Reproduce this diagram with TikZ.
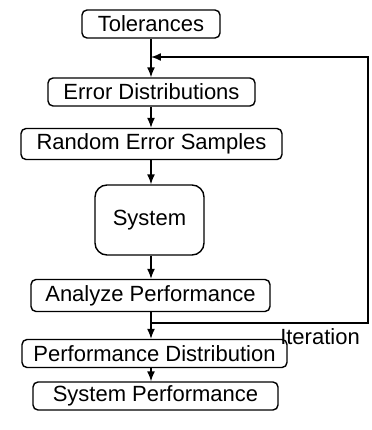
\documentclass[tikz,border=0pt]{standalone}
\usepackage{fontspec}
\setmainfont{Liberation Sans}
\usetikzlibrary{arrows.meta}
\begin{document}
\begin{tikzpicture}[x=0.5pt, y=0.5pt]
		\tikzstyle{Block} = [rectangle, rounded corners=2.5pt, minimum height=14pt, inner sep=0pt, text centered, draw=black, line width=0.7pt, fill=white, font=\fontsize{11}{13}\selectfont]
		\tikzstyle{SysBlock} = [Block, rounded corners=6pt, minimum width=54.5pt, minimum height=35pt]
		\tikzstyle{arrow} = [line width=0.7pt, -{Latex[length=5pt, width=4pt]}]
		
		\useasboundingbox (0,0) rectangle (371,430);
		\node (tol) [Block, minimum width=69pt] at (151,406) {Tolerances};
		\node (errdist) [Block, minimum width=103.5pt] at (151.5,338) {Error Distributions};
		\node (randerr) [Block, minimum width=130.5pt, minimum height=15.5pt] at (151.5,286) {Random Error Samples};
		\node (system) [SysBlock] at (149.5,210) {System};
		\node (analyze) [Block, minimum width=119.5pt, minimum height=16pt] at (150.5,134.5) {Analyze Performance};
		\node (perfdist) [Block, minimum width=132.5pt] at (154.5,76.5) {Performance Distribution};
		\node (sysperf) [Block, minimum width=122.5pt] at (155.5,34) {System Performance};
		
		\coordinate (split) at (151,107);
		\coordinate (corner) at (368,373);
		\coordinate (loopin) at (151,373);
		
		\draw [arrow] (tol.south -| loopin) -- (errdist.north -| loopin);
		\draw [arrow] (errdist.south -| loopin) -- (randerr.north -| loopin);
		\draw [arrow] (randerr.south -| loopin) -- (system.north -| loopin);
		\draw [arrow] (system.south -| loopin) -- (analyze.north -| loopin);
		\draw [arrow] (analyze.south -| split) -- (perfdist.north -| split);
		\draw [arrow] (perfdist.south -| split) -- (sysperf.north -| split);
		\draw [arrow] (split) -| (corner) -- (loopin);
		\node (iter) [font=\fontsize{11}{13}\selectfont, inner sep=0pt] at (320,93) {Iteration};
		\end{tikzpicture}
\end{document}
